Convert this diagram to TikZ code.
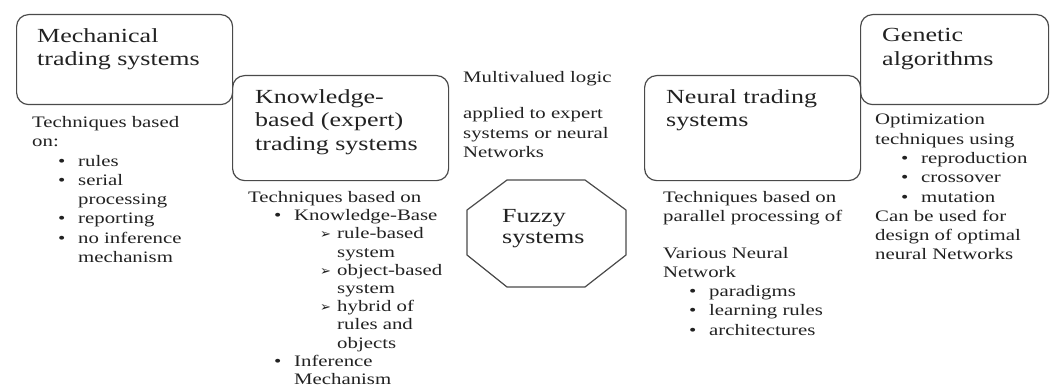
\documentclass[tikz,border=0pt]{standalone}
\usepackage{fontspec}
\setmainfont[FakeStretch=1.3]{Liberation Serif}
\newfontfamily\dingfont{DejaVu Sans}
\usetikzlibrary{positioning}
\definecolor{linec}{HTML}{4A4A4A}
\definecolor{textc}{HTML}{222222}
% list items: bullet, arrow, and their continuation lines
\newcommand{\bitem}[1]{\hspace*{26pt}\makebox[20pt][l]{\textbullet}#1}
\newcommand{\bcont}[1]{\hspace*{46pt}#1}
\newcommand{\aitem}[1]{\hspace*{72pt}\makebox[17pt][l]{\dingfont\fontsize{13}{13}\selectfont ➢}#1}
\newcommand{\acont}[1]{\hspace*{89pt}#1}
\tikzset{
  sysbox/.style={draw=linec, line width=1.2pt, rounded corners=12pt, inner sep=0pt,
                 minimum width=216pt, anchor=north west},
  title/.style={font=\fontsize{20}{23.5}\selectfont, text=textc, align=left,
                inner sep=0pt, anchor=north west},
  note/.style={font=\fontsize{16}{19.3}\selectfont, text=textc, align=left,
               inner sep=0pt, anchor=north west},
  octo/.style={draw=linec, line width=1.2pt, line join=round},
}
\begin{document}
\begin{tikzpicture}[x=1pt, y=-1pt]
  \useasboundingbox[fill=white] (0,0) rectangle (1051,385);
  % the four system boxes
  \node[sysbox, minimum height=90pt] (mech) at (16,14) {};
  \node[sysbox, minimum height=105pt] (know) at (232,75) {};
  \node[sysbox, minimum height=105pt] (neur) at (644,75) {};
  \node[sysbox, minimum width=188pt, minimum height=90pt] (gene) at (860,14) {};
  \node[title] (mechT) at ([xshift=21pt, yshift=-14.3pt]mech.north west) {Mechanical\\trading systems};
  \node[title] (knowT) at ([xshift=23pt, yshift=-14.3pt]know.north west) {Knowledge-\\based (expert)\\trading systems};
  \node[title] (neurT) at ([xshift=22pt, yshift=-14.3pt]neur.north west) {Neural trading\\systems};
  \node[title] (geneT) at ([xshift=22pt, yshift=-14.3pt]gene.north west) {Genetic\\algorithms};
  % fuzzy octagon
  \draw[octo] (507,180) -- (585,180) -- (626,210) -- (626,255) -- (585,287)
    -- (507,287) -- (467,255) -- (467,210) -- cycle;
  \node[title, font=\fontsize{20}{21}\selectfont] (fuzzy) at (502,208.8) {Fuzzy\\systems};
  % descriptions
  \node[note] (mechN) at (32,116.1) {Techniques based\\on:\\\bitem{rules}\\\bitem{serial}\\\bcont{processing}\\
    \bitem{reporting}\\\bitem{no inference}\\\bcont{mechanism}};
  \node[note, font=\fontsize{16}{18.2}\selectfont] (knowN) at (248,191.1) {Techniques based on\\\bitem{Knowledge-Base}\\
    \aitem{rule-based}\\\acont{system}\\\aitem{object-based}\\\acont{system}\\\aitem{hybrid of}\\
    \acont{rules and}\\\acont{objects}\\\bitem{Inference}\\\bcont{Mechanism}};
  \node[note] (fuzzN) at (463,71.1) {Multivalued logic\\[17pt]applied to expert\\systems or neural\\Networks};
  \node[note] (neurN) at (663,191.1) {Techniques based on\\parallel processing of\\[17pt]Various Neural\\Network\\
    \bitem{paradigms}\\\bitem{learning rules}\\\bitem{architectures}};
  \node[note] (geneN) at (875,114.1) {Optimization\\techniques using\\\bitem{reproduction}\\\bitem{crossover}\\
    \bitem{mutation}\\Can be used for\\design of optimal\\neural Networks};
\end{tikzpicture}
\end{document}
